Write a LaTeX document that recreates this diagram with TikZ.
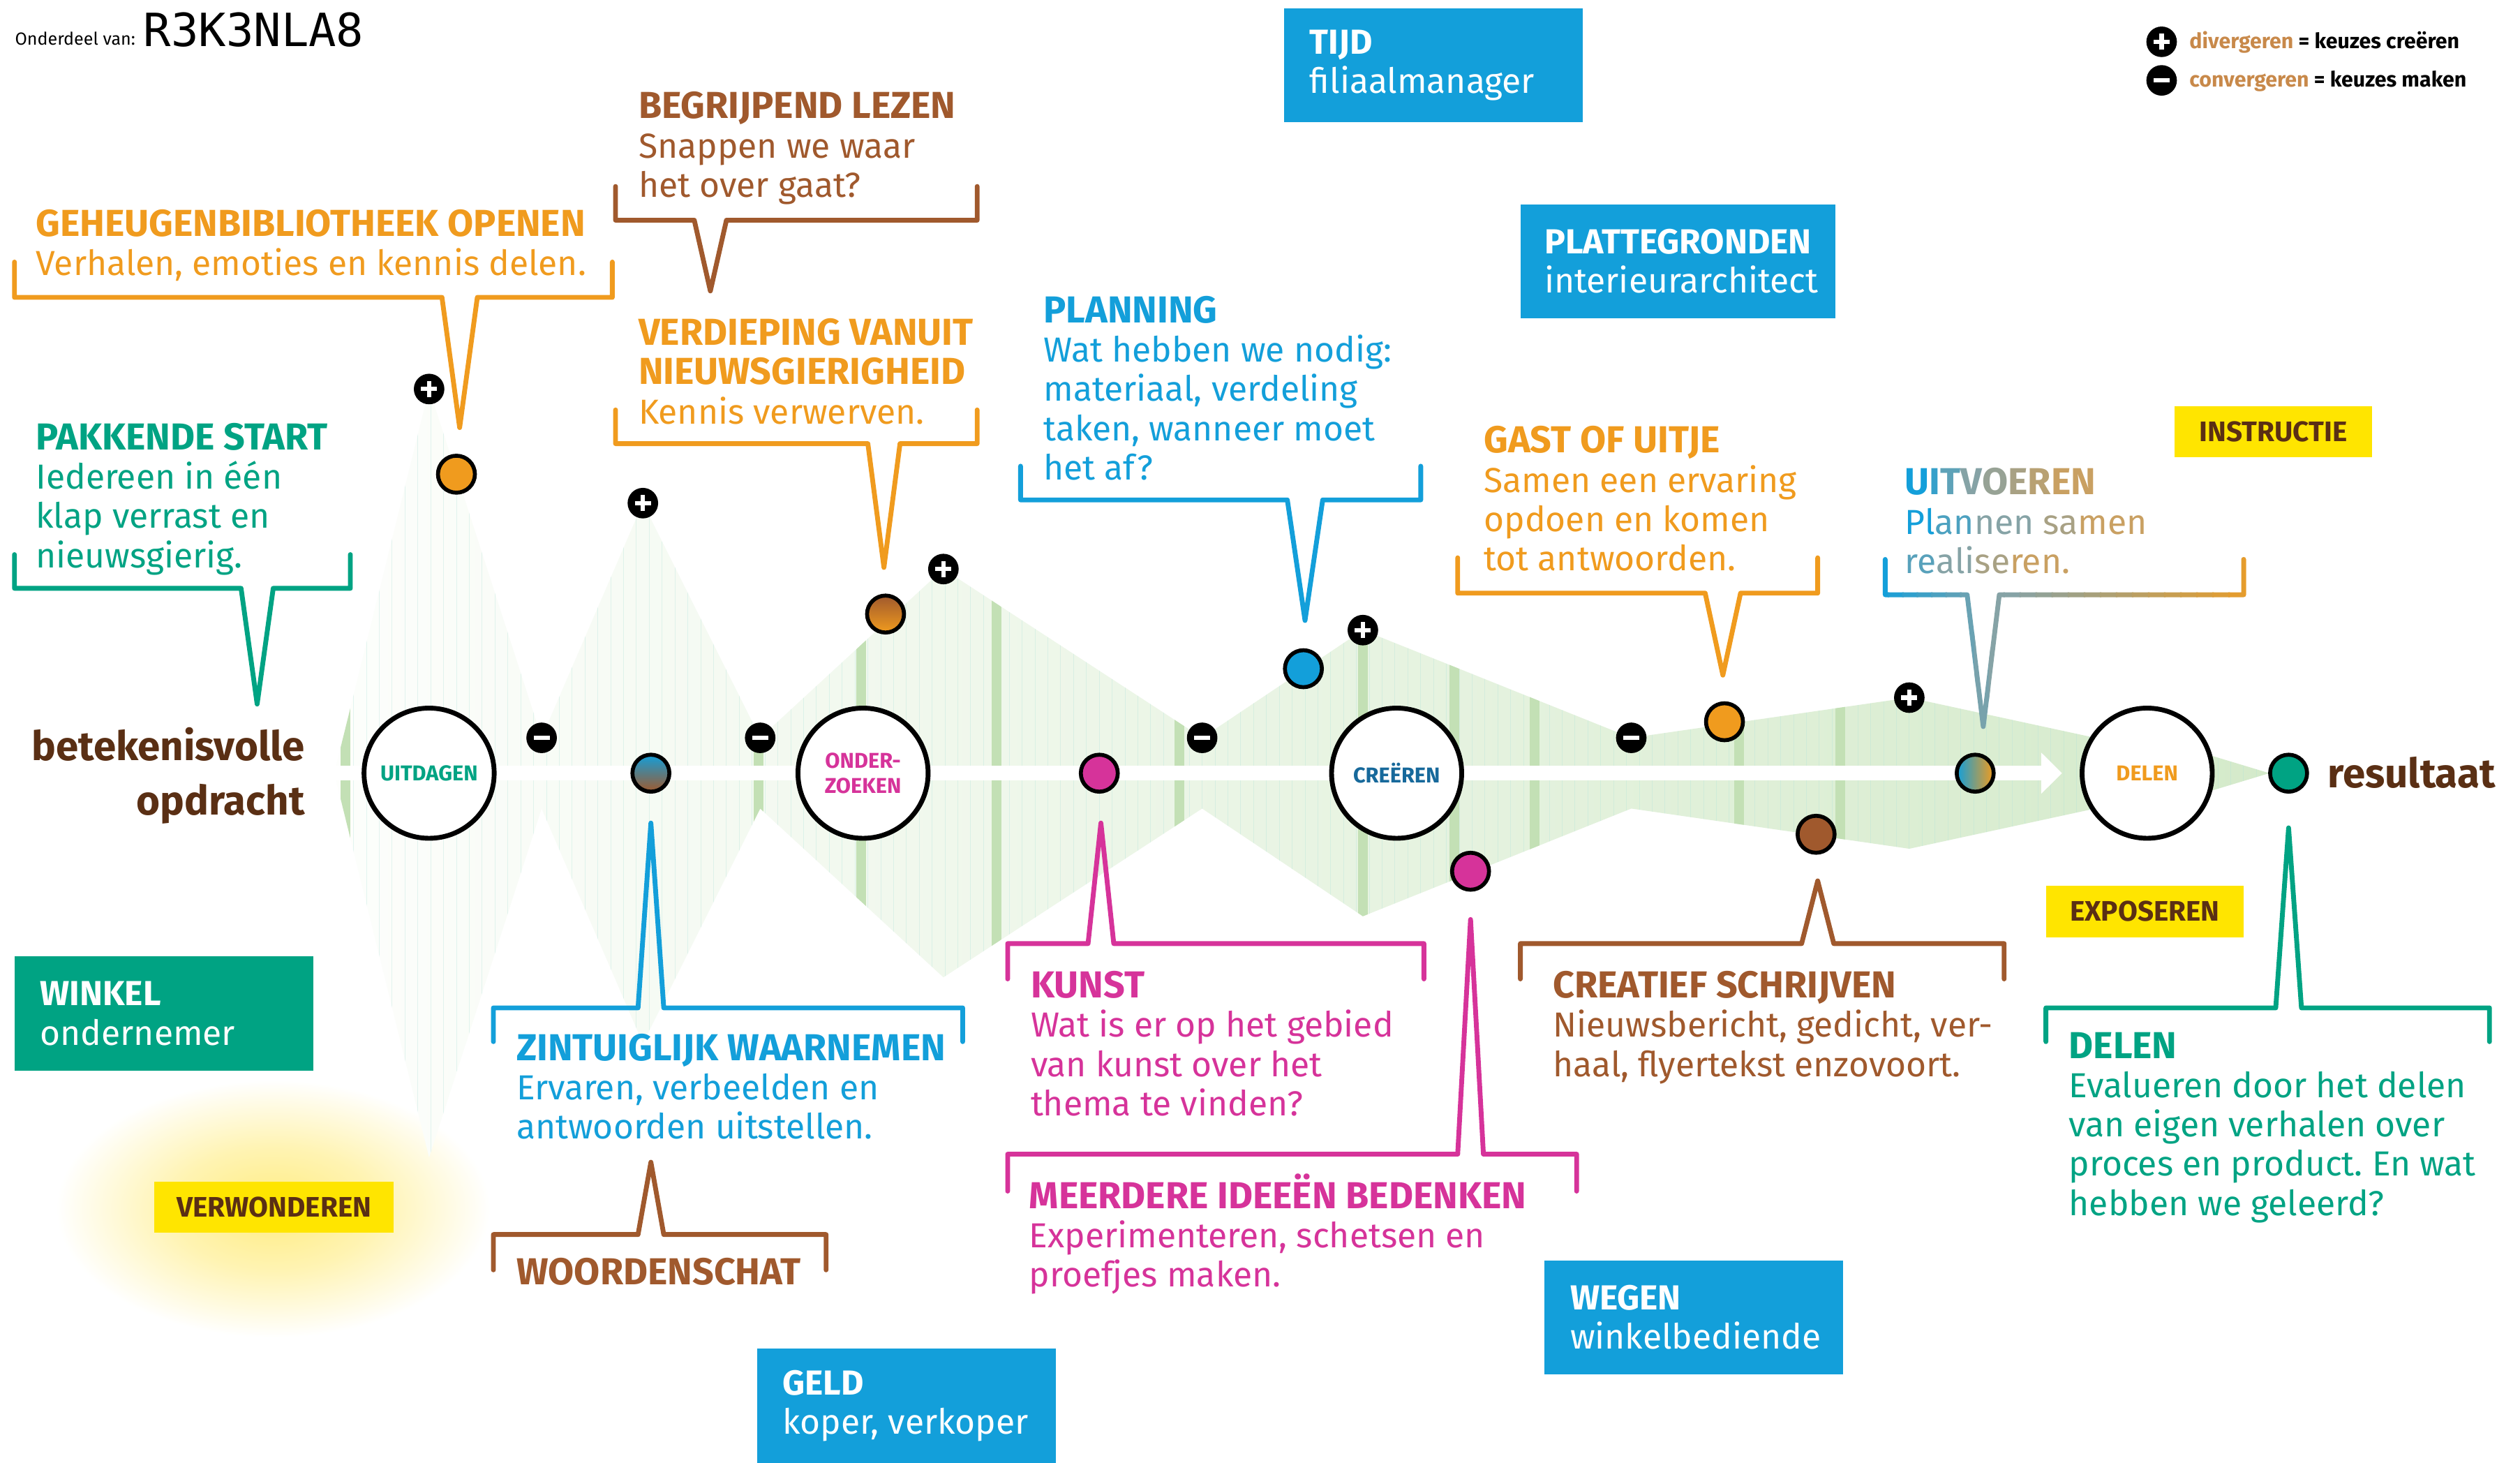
\documentclass[tikz,border=0pt]{standalone}
\usepackage{fontspec}
\setmainfont{Fira Sans}
\newfontfamily\codefont{DejaVu Sans Mono}
\usepackage{tikz}
\usetikzlibrary{arrows.meta}
\frenchspacing

\definecolor{kgreen}{HTML}{00A383}
\definecolor{korange}{HTML}{F09B1E}
\definecolor{kbrown}{HTML}{A0592D}
\definecolor{kblue}{HTML}{139FDA}
\definecolor{kpink}{HTML}{D6339A}
\definecolor{kdark}{HTML}{5A2F14}
\definecolor{kyellow}{HTML}{FFE500}
\definecolor{kcreer}{HTML}{17699B}
\definecolor{ktan}{HTML}{C8894A}
\definecolor{ugray}{HTML}{86A3A6}
\definecolor{utan}{HTML}{C9A062}
\definecolor{bandA}{HTML}{FDFEFC}
\definecolor{bandM}{HTML}{EBF5E6}
\definecolor{bandB}{HTML}{D4EACA}
\definecolor{bandstripe}{HTML}{C3E0B5}
\definecolor{glowc}{HTML}{FFEC80}

\pgfdeclareradialshading{glow}{\pgfpoint{0bp}{0bp}}{color(0bp)=(glowc); color(12bp)=(glowc!60!white); color(25bp)=(white); color(50bp)=(white)}

% bracket with a pointer: colour, left, right, bar y, side end y, pointer x, half width, tip y
\newcommand{\calloutline}[8]{\draw[callline, #1] (#2,#5) -- (#2,#4) -- ({#6-#7},#4) -- (#6,#8) -- ({#6+#7},#4) -- (#3,#4) -- (#3,#5);}
% heading line of a callout
\newcommand{\hd}[1]{{\fontsize{13.3}{13.9}\selectfont\bfseries #1}}

\begin{document}
\begin{tikzpicture}[x=0.02cm, y=-0.02cm,
    txt/.style={anchor=north west, yshift=9.2pt, inner sep=0pt, align=left, font=\fontsize{12.3}{13.9}\selectfont, execute at begin node={\rule{0pt}{12pt}}},
    rolebox/.style={fill=#1, inner sep=0pt, minimum height=1.42cm},
    roletxt/.style={anchor=west, inner sep=0pt, text=white, align=left, font=\fontsize{12.3}{13.9}\selectfont},
    tagbox/.style={fill=kyellow, text=kdark, inner sep=0pt, minimum height=0.64cm, font=\bfseries\fontsize{10}{11}\selectfont},
    stage/.style={circle, draw=black, fill=white, line width=1.7pt, minimum size=1.62cm, inner sep=0pt, align=center, font=\bfseries\fontsize{7.6}{9}\selectfont},
    dot/.style={circle, draw=black, line width=1.4pt, minimum size=0.46cm, inner sep=0pt},
    divmark/.style={circle, fill=black, inner sep=0pt, minimum size=0.38cm, path picture={\draw[white, line width=1.5pt] ([xshift=-0.1cm]path picture bounding box.center) -- ([xshift=0.1cm]path picture bounding box.center) ([yshift=-0.1cm]path picture bounding box.center) -- ([yshift=0.1cm]path picture bounding box.center);}},
    convmark/.style={circle, fill=black, inner sep=0pt, minimum size=0.38cm, path picture={\draw[white, line width=1.5pt] ([xshift=-0.1cm]path picture bounding box.center) -- ([xshift=0.1cm]path picture bounding box.center);}},
    callline/.style={line width=1.7pt, line join=round, line cap=round},
    bigword/.style={font=\bfseries\fontsize{14.4}{19.3}\selectfont, text=kdark, inner sep=0pt},
    legendtxt/.style={anchor=base west, inner sep=0pt, font=\bfseries\fontsize{7.5}{8}\selectfont}]

    \useasboundingbox (0,0) rectangle (1568,910);
    \fill[white] (0,0) rectangle (1568,910);

    % glow behind verwonderen
    \shade[shading=glow] (170,752) ellipse [x radius=2.7cm, y radius=1.6cm];

    % the band
    \begin{scope}
        \clip (208,481) -- (267,242) -- (337,459) -- (400,313) -- (473,459) -- (587,354) -- (748,459) -- (848,392) -- (1015,459) -- (1188,434) -- (1336,466) -- (1336,458) -- (1412,481) -- (1336,504) -- (1336,496) -- (1188,528) -- (1015,503) -- (848,570) -- (748,503) -- (587,608) -- (473,503) -- (400,649) -- (337,503) -- (267,720) -- cycle;
        \shade[left color=bandA, middle color=bandM, right color=bandB] (205,230) rectangle (1415,735);
        \foreach \x in {212,220,...,1412} \draw[line width=0.25pt, kgreen!30, opacity=0.35] (\x,230) -- (\x,735);
        \foreach \s in {215,472,536,620,734,848,905,955,1082,1145} \fill[bandstripe] ({\s-3},230) rectangle ({\s+3},735);
    \end{scope}

    \coordinate (axisstart) at (208,481);
    \coordinate (axisend) at (1283,481);
    \draw[white, line width=0.18cm, -{Triangle[length=0.26cm, width=0.5cm]}] (axisstart) -- (axisend);

    % callouts
    \calloutline{korange}{9}{381}{185}{163}{286}{11}{266}
    \calloutline{kgreen}{9}{218}{366}{345}{160}{10}{438}
    \calloutline{kbrown}{383}{608}{137}{116}{442}{10}{181}
    \calloutline{korange}{383}{608}{276}{255}{550}{10}{353}
    \calloutline{kblue}{635}{884}{311}{290}{812}{11}{386}
    \calloutline{korange}{907}{1131}{369}{347}{1072}{11}{420}
    \foreach \i [evaluate=\i as \p using {100-\i*100/8}] in {0,...,8} {
        \begin{scope}
            \clip ({1165.5+\i*9},330) rectangle ({1175.5+\i*9},465);
            \calloutline{kblue!\p!ugray}{1173}{1396}{370}{348}{1234}{10}{452}
        \end{scope}
    }
    \foreach \i [evaluate=\i as \p using {100-\i*100/16}] in {0,...,16} {
        \begin{scope}
            \clip ({1246.5+\i*10},330) rectangle ({1257.5+\i*10},465);
            \calloutline{ugray!\p!korange}{1173}{1396}{370}{348}{1234}{10}{452}
        \end{scope}
    }
    \calloutline{kblue}{307}{599}{627}{648}{405}{8}{512}
    \calloutline{kbrown}{307}{514}{768}{790}{405}{8}{723}
    \calloutline{kpink}{627}{886}{587}{609}{685}{8}{512}
    \calloutline{kpink}{627}{981}{718}{741}{915}{8}{572}
    \calloutline{kbrown}{946}{1247}{587}{609}{1131}{10}{548}
    \calloutline{kgreen}{1273}{1549}{627}{648}{1424}{8}{515}

    % callout texts
    \node[txt, text=korange] at (22,146) (geheugen) {\hd{GEHEUGENBIBLIOTHEEK OPENEN}\\Verhalen, emoties en kennis delen.};
    \node[txt, text=kgreen] at (22,279) (pakkend) {\hd{PAKKENDE START}\\Iedereen in één\\klap verrast en\\nieuwsgierig.};
    \node[txt, text=kbrown] at (397,73) (lezen) {\hd{BEGRIJPEND LEZEN}\\Snappen we waar\\het over gaat?};
    \node[txt, text=korange] at (397,214) (verdieping) {\hd{VERDIEPING VANUIT}\\\hd{NIEUWSGIERIGHEID}\\Kennis verwerven.};
    \node[txt, text=kblue] at (649,200) (planning) {\hd{PLANNING}\\Wat hebben we nodig:\\materiaal, verdeling\\taken, wanneer moet\\het af?};
    \node[txt, text=korange] at (923,281) (gast) {\hd{GAST OF UITJE}\\Samen een ervaring\\opdoen en komen\\tot antwoorden.};
    \node[txt] at (1185,307) (uitvoeren) {\hd{\textcolor{kblue}{U}\textcolor{kblue!70!ugray}{I}\textcolor{kblue!35!ugray}{T}\textcolor{ugray}{V}\textcolor{ugray!75!utan}{O}\textcolor{ugray!50!utan}{E}\textcolor{ugray!25!utan}{R}\textcolor{utan}{EN}}\\\textcolor{kblue}{Pl}\textcolor{kblue!50!ugray}{an}\textcolor{ugray}{nen} \textcolor{ugray!50!utan}{sa}\textcolor{utan}{men}\\\textcolor{kblue!40!ugray}{re}\textcolor{ugray}{ali}\textcolor{ugray!50!utan}{se}\textcolor{utan}{ren.}};
    \node[txt, text=kblue] at (321,659) (zintuig) {\hd{ZINTUIGLIJK WAARNEMEN}\\Ervaren, verbeelden en\\antwoorden uitstellen.};
    \node[txt, text=kbrown] at (321,794) (woorden) {\hd{WOORDENSCHAT}};
    \node[txt, text=kpink] at (641,620) (kunst) {\hd{KUNST}\\Wat is er op het gebied\\van kunst over het\\thema te vinden?};
    \node[txt, text=kpink] at (640,746) (ideeen) {\hd{MEERDERE IDEEËN BEDENKEN}\\Experimenteren, schetsen en\\proefjes maken.};
    \node[txt, text=kbrown] at (966,620) (schrijven) {\hd{CREATIEF SCHRIJVEN}\\Nieuwsbericht, gedicht, ver-\\haal, flyertekst enzovoort.};
    \node[txt, text=kgreen] at (1287,658) (delentxt) {\hd{DELEN}\\Evalueren door het delen\\van eigen verhalen over\\proces en product. En wat\\hebben we geleerd?};

    % role boxes
    \node[rolebox=kblue, minimum width=3.72cm] at (892,40.5) (tijd) {};
    \node[roletxt] at ([xshift=0.32cm]tijd.west) (tijdtxt) {\textbf{TIJD}\\filiaalmanager};
    \node[rolebox=kblue, minimum width=3.92cm] at (1044,162.5) (platte) {};
    \node[roletxt] at ([xshift=0.3cm]platte.west) (plattetxt) {\textbf{PLATTEGRONDEN}\\interieurarchitect};
    \node[rolebox=kblue, minimum width=3.72cm] at (1054,819.5) (wegen) {};
    \node[roletxt] at ([xshift=0.32cm]wegen.west) (wegentxt) {\textbf{WEGEN}\\winkelbediende};
    \node[rolebox=kblue, minimum width=3.72cm] at (564,874.5) (geld) {};
    \node[roletxt] at ([xshift=0.32cm]geld.west) (geldtxt) {\textbf{GELD}\\koper, verkoper};
    \node[rolebox=kgreen, minimum width=3.72cm] at (102,630.5) (winkel) {};
    \node[roletxt] at ([xshift=0.32cm]winkel.west) (winkeltxt) {\textbf{WINKEL}\\ondernemer};

    % yellow tags
    \node[tagbox, minimum width=2.98cm] at (170.5,751) (verwonder) {VERWONDEREN};
    \node[tagbox, minimum width=2.46cm] at (1414.5,268.5) (instructie) {INSTRUCTIE};
    \node[tagbox, minimum width=2.46cm] at (1334.5,567) (exposeren) {EXPOSEREN};

    % start and result
    \node[bigword, align=right, anchor=north east, yshift=11.2pt, execute at begin node={\rule{0pt}{14pt}}] at (190,472) (opdracht) {betekenisvolle\\opdracht};
    \node[bigword, anchor=base west] at (1448,490) (resultaat) {resultaat};

    % stages
    \node[stage, text=kgreen] at (267,481) (uitdagen) {UITDAGEN};
    \node[stage, text=kpink] at (537,481) (onderzoeken) {ONDER-\\ZOEKEN};
    \node[stage, text=kcreer] at (869,481) (creeren) {CREËREN};
    \node[stage, text=korange] at (1336,481) (delen) {DELEN};

    % dots
    \node[dot, fill=korange] at (284,295) (d1) {};
    \node[dot, top color=kbrown, bottom color=korange] at (551,382) (d2) {};
    \node[dot, fill=kblue] at (811,416) (d3) {};
    \node[dot, fill=korange] at (1073,449) (d4) {};
    \node[dot, top color=kblue, bottom color=kbrown] at (405,481) (d5) {};
    \node[dot, fill=kpink] at (684,481) (d6) {};
    \node[dot, fill=kpink] at (915,542) (d7) {};
    \node[dot, fill=kbrown] at (1130,519) (d8) {};
    \node[dot, left color=kblue, right color=korange] at (1229,481) (d9) {};
    \node[dot, fill=kgreen] at (1424,481) (d10) {};

    % plus and minus
    \node[divmark] at (267,242) (p1) {};
    \node[divmark] at (400,313) (p2) {};
    \node[divmark] at (587,354) (p3) {};
    \node[divmark] at (848,392) (p4) {};
    \node[divmark] at (1188,434) (p5) {};
    \node[convmark] at (337,459) (m1) {};
    \node[convmark] at (473,459) (m2) {};
    \node[convmark] at (748,459) (m3) {};
    \node[convmark] at (1015,459) (m4) {};

    % header and legend
    \node[anchor=base west, inner sep=0pt, font=\fontsize{6.2}{7}\selectfont] at (9,28) (onderdeel) {Onderdeel van:};
    \node[anchor=base west, inner sep=0pt, font=\codefont\fontsize{16.2}{18}\selectfont] at (89,29) (code) {R3K3NLA8};
    \node[divmark] at (1345,26) (lp) {};
    \node[convmark] at (1345,50) (lm) {};
    \node[legendtxt] at (1362,30) (ldiv) {\textcolor{ktan}{divergeren} = keuzes creëren};
    \node[legendtxt] at (1362,54) (lconv) {\textcolor{ktan}{convergeren} = keuzes maken};
\end{tikzpicture}
\end{document}
